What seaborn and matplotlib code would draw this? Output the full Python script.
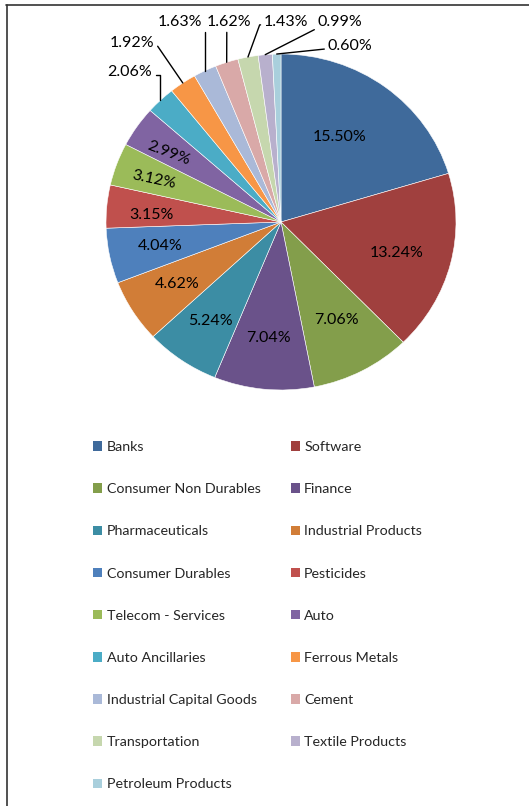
import numpy as np
import matplotlib
matplotlib.use("Agg")
import matplotlib.pyplot as plt
import seaborn as sns
from matplotlib.patches import Patch
from matplotlib.lines import Line2D

# ---- data ----
sectors = ["Banks", "Software", "Consumer Non Durables", "Finance", "Pharmaceuticals",
           "Industrial Products", "Consumer Durables", "Pesticides", "Telecom - Services",
           "Auto", "Auto Ancillaries", "Ferrous Metals", "Industrial Capital Goods",
           "Cement", "Transportation", "Textile Products", "Petroleum Products"]
weights = [15.50, 13.24, 7.06, 7.04, 5.24, 4.62, 4.04, 3.15, 3.12, 2.99,
           2.06, 1.92, 1.63, 1.62, 1.43, 0.99, 0.60]
colors = ["#3F6A9B", "#A0403E", "#839E4B", "#6A528A", "#3C8DA4", "#D17D37",
          "#4E80BC", "#C0504D", "#9BBB59", "#8064A2", "#4BACC6", "#F79646",
          "#AAB9D8", "#D9A9A8", "#C6D7AE", "#B8B0CD", "#A9CFDC"]

# ---- layout (label placement) ----
inside_pos = {0: (0.337, 0.506), 1: (0.663, -0.185), 2: (0.314, -0.583),
              3: (-0.069, -0.690), 4: (-0.406, -0.589), 5: (-0.594, -0.369),
              6: (-0.691, -0.143), 7: (-0.743, 0.042), 8: (-0.726, 0.25),
              9: (-0.64, 0.411)}
inside_rot = {8: -12, 9: -21}
# outside labels: (text x, text y, relpos, connectionstyle)
outside = {
    10: ((-0.863, 0.893), (1.0, 0.3), "angle,angleA=0,angleB=90,rad=0"),
    11: ((-0.851, 1.065), (1.0, 0.3), "angle,angleA=0,angleB=-55.6,rad=0"),
    12: ((-0.577, 1.190), (1.0, 0.3), "angle,angleA=0,angleB=90,rad=0"),
    13: ((-0.297, 1.190), (0.45, 0.0), "arc3,rad=0"),
    14: ((0.029, 1.190), (0.0, 0.3), "angle,angleA=0,angleB=-110,rad=0"),
    15: ((0.337, 1.190), (0.0, 0.3), "angle,angleA=0,angleB=-153,rad=0"),
    16: ((0.394, 1.048), (0.0, 0.3), "arc3,rad=0"),
}

sns.set_theme(style="white")
plt.rcParams["font.family"] = ["Lato", "DejaVu Sans"]

fig = plt.figure(figsize=(5.29, 8.06), dpi=100)
fig.patch.set_facecolor("white")

ax = fig.add_axes([36 / 529, 1 - 440.4 / 806, 490 / 529, 436.8 / 806])
wedges, _ = ax.pie(weights, colors=colors, startangle=90, counterclock=False,
                   wedgeprops=dict(edgecolor="white", linewidth=0.4))
ax.set_aspect("auto")
ax.set_xlim(-1.4, 1.4)
ax.set_ylim(-1.3, 1.3)
ax.axis("off")

lbl_fs = 11.5
for i, w in enumerate(weights):
    txt = f"{w:.2f}%"
    if i in inside_pos:
        x, y = inside_pos[i]
        ax.text(x, y, txt, ha="center", va="center", fontsize=lbl_fs,
                color="black", rotation=inside_rot.get(i, 0))
    else:
        (tx, ty), rel, cs = outside[i]
        wd = wedges[i]
        ang = np.deg2rad((wd.theta1 + wd.theta2) / 2)
        ex, ey = np.cos(ang), np.sin(ang)
        ax.annotate(txt, xy=(ex, ey), xytext=(tx, ty), ha="center", va="center",
                    fontsize=lbl_fs, color="black", annotation_clip=False,
                    arrowprops=dict(arrowstyle="-", color="black", lw=1.0,
                                    shrinkA=0, shrinkB=0, relpos=rel,
                                    connectionstyle=cs))

# legend, row-wise order in two columns
order = list(range(0, len(sectors), 2)) + list(range(1, len(sectors), 2))
handles = [Patch(facecolor=colors[k], edgecolor="none", label=sectors[k]) for k in order]
fig.legend(handles=handles, ncol=2, loc="upper left",
           bbox_to_anchor=(93 / 529, 1 - 441 / 806), frameon=False,
           fontsize=10.3, handlelength=0.65, handleheight=0.65, handletextpad=0.3,
           labelspacing=2.11, columnspacing=2.1, borderpad=0, borderaxespad=0)

# frame lines
fig.add_artist(Line2D([6.5 / 529, 6.5 / 529], [0, 1 - 4.5 / 806], transform=fig.transFigure,
                      color="#333333", lw=1.2))
fig.add_artist(Line2D([6 / 529, 1], [1 - 4.5 / 806, 1 - 4.5 / 806], transform=fig.transFigure,
                      color="#333333", lw=1.2))

fig.savefig("out.png", dpi=100, facecolor="white")
